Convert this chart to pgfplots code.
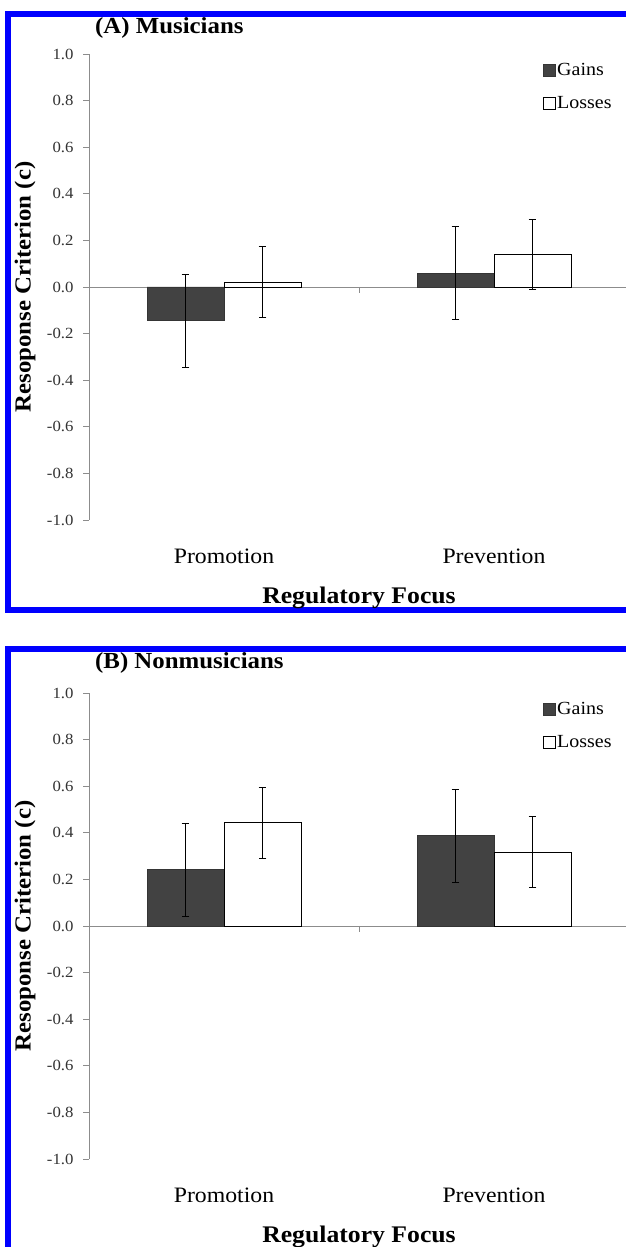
\documentclass[border=0pt]{standalone}
\usepackage{fontspec}
\setmainfont{Liberation Serif}[FakeStretch=1.08]
\usepackage{pgfplots}
\pgfplotsset{compat=1.18}
\definecolor{gainc}{HTML}{424242}
\definecolor{axgray}{HTML}{8C8C8C}
\pgfplotsset{
  panel/.style={
    scale only axis, width=540pt, height=466pt,
    anchor=south west,
    xmin=-0.5, xmax=1.5, ymin=-1, ymax=1,
    clip=false,
    ybar=0pt, bar width=77pt,
    axis x line*=bottom, axis y line*=left,
    x axis line style={draw=none},
    y axis line style={axgray, line width=0.8pt},
    xtick={0,1}, xticklabels={Promotion,Prevention},
    xtick style={draw=none},
    xticklabel style={font=\fontsize{22}{24}\selectfont, anchor=center, yshift=-30.5pt},
    ytick={-1,-0.8,-0.6,-0.4,-0.2,0,0.2,0.4,0.6,0.8,1},
    yticklabels={-1.0,-0.8,-0.6,-0.4,-0.2,0.0,0.2,0.4,0.6,0.8,1.0},
    ytick style={axgray, line width=0.8pt},
    tick align=outside, major tick length=6pt,
    yticklabel style={font=\fontsize{15.5}{17}\selectfont, text=black!80, anchor=east, xshift=-6pt},
    xlabel={Regulatory Focus},
    xlabel style={at={(axis description cs:0.5,-0.168)}, anchor=center, font=\fontsize{23.8}{26}\selectfont\bfseries},
    ylabel={Resoponse Criterion (c)},
    ylabel style={at={(axis description cs:-0.1185,0.5)}, anchor=center, font=\fontsize{23}{25}\selectfont\bfseries},
    legend style={draw=none, fill=none, at={(0.84,0.9836)}, anchor=north west,
      font=\fontsize{18.5}{20}\selectfont, row sep=16.5pt, inner sep=0pt, nodes={inner sep=1.5pt}},
    legend cell align=left,
    legend image code/.code={\draw[#1] (0pt,-6pt) rectangle (12pt,6pt);},
  },
  gains/.style={fill=gainc, draw=gainc!80!black, line width=0.8pt,
    error bars/.cd, y dir=both, y explicit,
    error bar style={black, line width=0.9pt},
    error mark options={rotate=90, black, mark size=3.8pt, line width=0.9pt}},
  losses/.style={fill=white, draw=black, line width=0.9pt,
    error bars/.cd, y dir=both, y explicit,
    error bar style={black, line width=0.9pt},
    error mark options={rotate=90, black, mark size=3.8pt, line width=0.9pt}},
}
\begin{document}
\begin{tikzpicture}
\useasboundingbox (0pt,0pt) rectangle (626pt,1247pt);
\fill[white] (0pt,0pt) rectangle (626pt,1247pt);
\begin{scope}
\clip (0pt,0pt) rectangle (626pt,1247pt);
\draw[blue, line width=6pt] (700pt,1232.5pt) -- (8pt,1232.5pt) -- (8pt,637pt) -- (700pt,637pt);
\draw[blue, line width=6pt] (700pt,597.5pt) -- (8pt,597.5pt) -- (8pt,-50pt);

% Panel A
\begin{axis}[panel, at={(89pt,727pt)}]
\draw[axgray, line width=0.8pt] (axis cs:-0.5,0) -- (axis cs:1.5,0);
\draw[axgray, line width=0.8pt] (axis cs:0.5,0) -- ++(0pt,-6pt);
\addplot[gains] coordinates {(0,-0.145) +- (0,0.199) (1,0.06) +- (0,0.2)};
\addplot[losses] coordinates {(0,0.02) +- (0,0.152) (1,0.141) +- (0,0.15)};
\legend{Gains,Losses}
\end{axis}
\node[anchor=base west, font=\fontsize{23}{25}\selectfont\bfseries, inner sep=0pt] at (95pt,1213pt) {(A) Musicians};

% Panel B
\begin{axis}[panel, at={(89pt,88pt)}]
\draw[axgray, line width=0.8pt] (axis cs:-0.5,0) -- (axis cs:1.5,0);
\draw[axgray, line width=0.8pt] (axis cs:0.5,0) -- ++(0pt,-6pt);
\addplot[gains] coordinates {(0,0.242) +- (0,0.2) (1,0.387) +- (0,0.2)};
\addplot[losses] coordinates {(0,0.443) +- (0,0.153) (1,0.317) +- (0,0.152)};
\legend{Gains,Losses}
\end{axis}
\node[anchor=base west, font=\fontsize{23}{25}\selectfont\bfseries, inner sep=0pt] at (95pt,578pt) {(B) Nonmusicians};
\end{scope}
\end{tikzpicture}
\end{document}
